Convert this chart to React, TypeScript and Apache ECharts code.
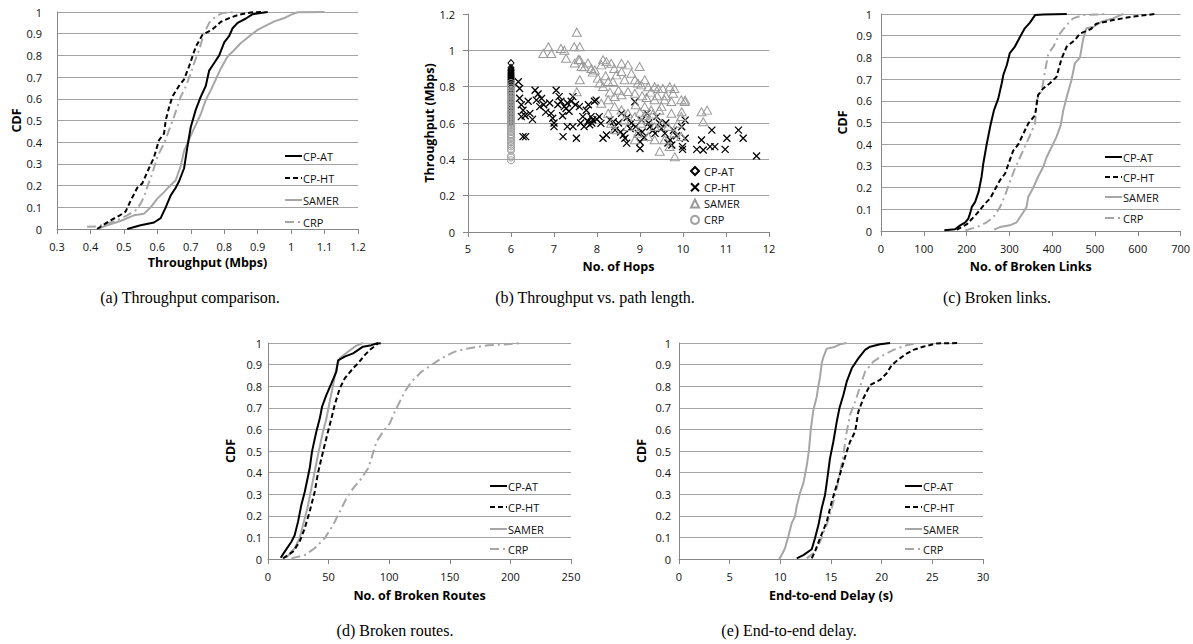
import React, { useEffect, useRef } from "react";
import * as echarts from "echarts";

// ---------- (a) Throughput CDF ----------
const aCPAT = [[0.51,0],[0.55,0.017],[0.59,0.03],[0.61,0.05],[0.625,0.1],[0.64,0.155],[0.655,0.19],[0.665,0.22],[0.68,0.28],[0.69,0.38],[0.70,0.47],[0.715,0.55],[0.73,0.61],[0.745,0.66],[0.755,0.73],[0.77,0.765],[0.785,0.80],[0.80,0.86],[0.815,0.89],[0.825,0.925],[0.84,0.95],[0.865,0.97],[0.885,0.99],[0.93,1]];
const aCPHT = [[0.42,0],[0.46,0.04],[0.485,0.06],[0.505,0.08],[0.52,0.13],[0.54,0.19],[0.555,0.21],[0.575,0.28],[0.59,0.33],[0.605,0.41],[0.62,0.44],[0.625,0.5],[0.635,0.56],[0.645,0.61],[0.665,0.66],[0.68,0.69],[0.695,0.75],[0.715,0.84],[0.735,0.895],[0.765,0.92],[0.79,0.955],[0.82,0.975],[0.845,0.988],[0.88,0.998],[0.92,1]];
const aSAMER = [[0.42,0],[0.45,0.017],[0.49,0.037],[0.53,0.063],[0.56,0.07],[0.58,0.10],[0.60,0.14],[0.62,0.17],[0.635,0.195],[0.655,0.225],[0.67,0.29],[0.68,0.36],[0.69,0.395],[0.70,0.43],[0.715,0.48],[0.73,0.53],[0.745,0.595],[0.76,0.64],[0.775,0.69],[0.79,0.74],[0.81,0.795],[0.83,0.825],[0.85,0.857],[0.875,0.888],[0.90,0.918],[0.92,0.934],[0.95,0.957],[0.98,0.972],[1.0,0.988],[1.02,0.999],[1.1,1]];
const aCRP = [[0.39,0.01],[0.42,0.012],[0.45,0.025],[0.48,0.04],[0.51,0.063],[0.535,0.086],[0.55,0.117],[0.56,0.148],[0.57,0.194],[0.585,0.256],[0.60,0.333],[0.62,0.394],[0.635,0.456],[0.65,0.518],[0.66,0.564],[0.67,0.61],[0.685,0.656],[0.70,0.718],[0.71,0.764],[0.725,0.826],[0.74,0.903],[0.755,0.95],[0.775,0.98],[0.795,0.995],[0.83,1]];

// ---------- (b) Throughput vs hops ----------
const bCPAT = [[6,0.93],[6,0.904],[6,0.896],[6,0.889],[6,0.885],[6,0.877],[6,0.873],[6,0.867],[6,0.862],[6,0.858],[6,0.852],[6,0.849],[6,0.842],[6,0.839],[6,0.833],[6,0.828],[6,0.825],[6,0.817],[6,0.811],[6,0.806],[6,0.798],[6,0.793],[6,0.784],[6,0.778],[6,0.767],[6,0.76],[6,0.747],[6,0.737],[6,0.721],[6,0.71],[6,0.694],[6,0.682],[6,0.666],[6,0.653],[6,0.637],[6,0.625],[6,0.61],[6,0.602]];
const bCPHT = [[6.17,0.827],[6.2,0.79],[6.2,0.736],[6.24,0.70],[6.28,0.67],[6.24,0.635],[6.33,0.64],[6.44,0.653],[6.28,0.525],[6.34,0.525],[6.56,0.78],[6.63,0.76],[6.59,0.726],[6.71,0.735],[6.67,0.69],[6.76,0.70],[6.81,0.66],[6.93,0.653],[6.97,0.626],[7.0,0.58],[7.0,0.6],[7.05,0.78],[7.12,0.745],[7.16,0.72],[7.24,0.69],[7.09,0.70],[7.31,0.71],[7.35,0.665],[7.44,0.745],[7.31,0.58],[7.44,0.58],[7.21,0.525],[7.52,0.516],[7.28,0.68],[7.59,0.69],[7.67,0.635],[7.75,0.67],[7.79,0.61],[7.86,0.635],[7.9,0.617],[7.94,0.72],[7.98,0.726],[8.05,0.635],[8.09,0.598],[8.22,0.534],[8.14,0.516],[8.3,0.617],[8.41,0.58],[8.38,0.607],[8.42,0.561],[8.61,0.534],[8.65,0.516],[8.57,0.653],[8.88,0.717],[8.96,0.543],[9.0,0.497],[9.0,0.46],[9.04,0.616],[9.23,0.579],[9.39,0.635],[9.35,0.543],[9.58,0.543],[9.7,0.506],[9.74,0.479],[9.78,0.56],[9.97,0.579],[9.16,0.653],[8.77,0.57],[8.69,0.489],[10.05,0.616],[10.05,0.516],[9.99,0.47],[9.99,0.455],[10.32,0.455],[10.43,0.506],[10.47,0.451],[10.63,0.47],[10.74,0.47],[10.67,0.561],[10.98,0.455],[11.02,0.516],[11.29,0.561],[11.4,0.516],[11.71,0.418],[7.62,0.6],[7.7,0.58],[7.83,0.59],[7.88,0.6],[8.0,0.62],[8.5,0.6],[8.55,0.55],[8.7,0.63],[8.8,0.6],[8.9,0.58],[9.05,0.55],[9.1,0.52],[9.2,0.6],[9.3,0.56],[9.45,0.6],[9.5,0.57],[9.6,0.6],[9.65,0.49],[9.85,0.53],[6.5,0.62],[6.9,0.71],[7.2,0.64],[7.4,0.72],[7.5,0.7],[6.4,0.72],[7.8,0.7]];
const bSAMER = [[7.53,1.1],[6.87,1.02],[6.75,0.983],[6.94,0.983],[7.16,1.01],[7.24,1.0],[7.28,0.956],[7.47,1.02],[7.6,1.02],[7.57,0.95],[7.48,0.93],[7.6,0.948],[7.64,0.911],[7.71,0.91],[7.79,0.93],[7.87,0.90],[7.95,0.892],[8.14,0.948],[8.22,0.938],[8.33,0.929],[8.57,0.929],[8.72,0.92],[8.99,0.911],[7.6,0.838],[7.53,0.772],[8.02,0.847],[8.06,0.82],[8.14,0.801],[8.26,0.828],[8.37,0.828],[8.45,0.865],[8.57,0.883],[8.64,0.838],[8.8,0.874],[8.88,0.838],[8.95,0.82],[9.03,0.81],[9.11,0.838],[9.19,0.8],[9.34,0.8],[9.42,0.79],[9.53,0.79],[9.69,0.8],[9.8,0.79],[9.77,0.764],[9.96,0.728],[10.04,0.718],[10.43,0.662],[10.56,0.671],[10.47,0.607],[9.73,0.718],[9.57,0.728],[9.5,0.69],[9.34,0.728],[9.26,0.672],[9.11,0.69],[8.88,0.764],[8.72,0.773],[8.57,0.755],[8.41,0.746],[8.26,0.728],[8.1,0.709],[8.41,0.69],[8.57,0.672],[8.72,0.654],[8.88,0.636],[8.64,0.617],[8.33,0.599],[8.41,0.563],[8.72,0.581],[9.03,0.599],[9.19,0.617],[9.34,0.581],[9.5,0.599],[9.65,0.581],[9.8,0.544],[9.69,0.471],[9.46,0.444],[9.81,0.414],[9.96,0.636],[9.88,0.599],[9.73,0.654],[8.95,0.544],[9.19,0.526],[9.34,0.508],[9.57,0.508],[8.88,0.508],[8.26,0.654],[9.96,0.526],[10.05,0.726],[9.97,0.662],[8.5,0.78],[8.3,0.77],[8.9,0.7],[9.05,0.75],[9.15,0.74],[9.25,0.77],[9.4,0.75],[9.6,0.75],[9.0,0.66],[9.1,0.64],[9.3,0.65],[9.45,0.67],[8.2,0.86],[8.4,0.9],[8.1,0.92],[7.9,0.88]];
const bCRP = [[6,0.82],[6,0.807],[6,0.795],[6,0.784],[6,0.777],[6,0.767],[6,0.76],[6,0.75],[6,0.744],[6,0.734],[6,0.728],[6,0.718],[6,0.712],[6,0.702],[6,0.696],[6,0.686],[6,0.68],[6,0.67],[6,0.664],[6,0.654],[6,0.648],[6,0.638],[6,0.632],[6,0.622],[6,0.616],[6,0.606],[6,0.6],[6,0.59],[6,0.584],[6,0.574],[6,0.568],[6,0.557],[6,0.55],[6,0.539],[6,0.532],[6,0.521],[6,0.513],[6,0.501],[6,0.493],[6,0.48],[6,0.471],[6,0.458],[6,0.449],[6,0.42],[6,0.41],[6,0.395]];

// ---------- (c) Broken links CDF ----------
const cCPAT = [[148,0.003],[173,0.008],[185,0.026],[197,0.04],[204,0.057],[208,0.08],[212,0.11],[220,0.134],[228,0.18],[235,0.25],[239,0.31],[247,0.40],[255,0.48],[264,0.557],[274,0.61],[282,0.68],[286,0.72],[294,0.765],[301,0.82],[313,0.85],[325,0.895],[336,0.934],[348,0.96],[360,0.995],[379,0.998],[434,1]];
const cCPHT = [[177,0.006],[200,0.03],[224,0.08],[243,0.126],[255,0.15],[266,0.19],[278,0.234],[290,0.265],[298,0.31],[309,0.37],[321,0.40],[333,0.45],[344,0.495],[360,0.534],[367,0.626],[379,0.657],[394,0.68],[410,0.71],[422,0.795],[434,0.85],[453,0.88],[465,0.91],[490,0.93],[503,0.955],[542,0.972],[588,0.988],[640,1]];
const cSAMER = [[264,0.006],[278,0.018],[301,0.026],[317,0.04],[333,0.088],[340,0.11],[344,0.157],[356,0.2],[367,0.25],[379,0.295],[387,0.34],[399,0.388],[410,0.434],[420,0.488],[426,0.557],[434,0.618],[445,0.695],[453,0.772],[465,0.80],[472,0.88],[480,0.934],[496,0.94],[515,0.965],[542,0.98],[566,1]];
const cCRP = [[197,0.003],[224,0.018],[247,0.04],[263,0.065],[278,0.11],[290,0.165],[301,0.226],[313,0.288],[325,0.34],[336,0.388],[348,0.44],[360,0.495],[364,0.603],[376,0.65],[383,0.734],[391,0.818],[403,0.85],[418,0.91],[434,0.95],[449,0.98],[472,0.995],[527,1]];

// ---------- (d) Broken routes CDF ----------
const dCPAT = [[10.5,0.006],[13.8,0.034],[19.3,0.08],[22,0.11],[24.8,0.173],[27.5,0.25],[30.3,0.31],[34.4,0.42],[36.3,0.497],[39.9,0.59],[42.7,0.65],[44.6,0.705],[48.2,0.76],[52.3,0.813],[56.4,0.867],[57.8,0.92],[63.3,0.937],[70.2,0.952],[78.4,0.983],[85.3,0.99],[90.8,1]];
const dCPHT = [[12.4,0.003],[20.6,0.034],[26.1,0.08],[30.3,0.142],[34.4,0.22],[38.5,0.31],[41.3,0.40],[45.4,0.497],[49.5,0.59],[52.3,0.65],[55,0.713],[59.2,0.79],[63.3,0.836],[70.2,0.883],[74.3,0.906],[79.8,0.944],[84,0.968],[90.8,0.998],[95,1]];
const dSAMER = [[15.1,0.006],[22,0.05],[26.1,0.096],[28.9,0.157],[32.5,0.235],[35.8,0.327],[38.5,0.404],[41.8,0.497],[45.4,0.59],[48.2,0.65],[50.9,0.728],[53.7,0.805],[56.4,0.883],[59.2,0.929],[66.1,0.96],[72.9,0.988],[78.4,1]];
const dCRP = [[19.3,0.003],[30.3,0.018],[38.5,0.05],[46.8,0.096],[53.7,0.157],[59.2,0.219],[64.7,0.28],[70.2,0.327],[77.1,0.373],[82.6,0.42],[85.3,0.466],[89.5,0.543],[95,0.59],[100.5,0.628],[104.6,0.682],[108.7,0.728],[112.9,0.775],[118.4,0.821],[126.6,0.867],[134.9,0.898],[143.1,0.929],[154.1,0.96],[165.2,0.975],[181.7,0.99],[195,0.993],[210,1]];

// ---------- (e) End-to-end delay CDF ----------
const eCPAT = [[11.62,0.003],[12.27,0.018],[13.1,0.045],[13.42,0.096],[13.76,0.157],[14.08,0.235],[14.41,0.296],[14.64,0.373],[14.9,0.466],[15.23,0.543],[15.57,0.636],[15.83,0.698],[16.22,0.759],[16.55,0.821],[17.05,0.883],[17.7,0.929],[18.36,0.968],[18.86,0.983],[19.84,0.994],[20.83,1]];
const eCPHT = [[13.1,0.003],[13.42,0.034],[13.92,0.096],[14.58,0.173],[15.07,0.265],[15.57,0.343],[16.06,0.42],[16.55,0.497],[16.88,0.543],[17.38,0.59],[17.7,0.682],[18.2,0.744],[18.86,0.806],[19.84,0.829],[20.5,0.86],[21,0.898],[21.8,0.929],[22.5,0.952],[23.13,0.968],[24.1,0.983],[25.44,0.998],[27.74,1]];
const eSAMER = [[9.9,0],[10.23,0.028],[10.46,0.05],[10.79,0.105],[11.12,0.166],[11.45,0.197],[11.61,0.243],[11.94,0.305],[12.27,0.35],[12.6,0.43],[12.83,0.505],[13,0.597],[13.26,0.69],[13.59,0.75],[13.75,0.8],[13.92,0.843],[14.08,0.905],[14.25,0.935],[14.58,0.974],[15.23,0.98],[15.89,0.994],[16.55,1]];
const eCRP = [[12.6,0.003],[13.26,0.026],[13.92,0.08],[14.58,0.157],[15.07,0.235],[15.57,0.327],[15.9,0.404],[16.22,0.48],[16.49,0.574],[16.88,0.667],[17.38,0.728],[17.87,0.798],[18.36,0.867],[19.18,0.914],[20.17,0.944],[21.16,0.968],[22.47,0.99],[23.5,1]];

const names = ["CP-AT", "CP-HT", "SAMER", "CRP"];
const captions = ["(a) Throughput comparison.", "(b) Throughput vs. path length.", "(c) Broken links.", "(d) Broken routes.", "(e) End-to-end delay."];

const GRAY = "#a6a6a6";
const GRIDC = "#a3a3a3";
const AXISC = "#878787";
const FONT = "Open Sans";

const lineStyles: any[] = [
  { color: "#000", width: 2, type: "solid" },
  { color: "#000", width: 2, type: [5, 3] },
  { color: GRAY, width: 2, type: "solid" },
  { color: GRAY, width: 2, type: [9, 4, 2, 4] },
];

function xAxis(gi: number, min: number, max: number, interval: number, name: string, nameGap: number, margin: number) {
  return {
    type: "value", gridIndex: gi, min, max, interval, name, nameLocation: "middle", nameGap,
    nameTextStyle: { fontFamily: FONT, fontWeight: "bold", fontSize: 12.5, color: "#000" },
    axisLine: { show: true, onZero: false, lineStyle: { color: AXISC, width: 1 } },
    axisTick: { show: true, length: 5, lineStyle: { color: AXISC } },
    axisLabel: { margin, fontFamily: FONT, fontSize: 11, color: "#111", showMinLabel: true, showMaxLabel: true },
    splitLine: { show: false },
  };
}

function yAxis(gi: number, max: number, interval: number, name: string, nameGap: number, margin: number, ticks: boolean, splitColors?: string[]) {
  return {
    type: "value", gridIndex: gi, min: 0, max, interval, name, nameLocation: "middle", nameGap, nameRotate: 90,
    nameTextStyle: { fontFamily: FONT, fontWeight: "bold", fontSize: 12.5, color: "#000" },
    axisLine: { show: true, lineStyle: { color: AXISC, width: 1 } },
    axisTick: { show: ticks, length: 5, lineStyle: { color: AXISC } },
    axisLabel: { margin, fontFamily: FONT, fontSize: 11, color: "#111", showMinLabel: true, showMaxLabel: true },
    splitLine: { show: true, lineStyle: { color: splitColors || GRIDC, width: 1 } },
  };
}

function cdfSeries(prefix: string, gi: number, datas: number[][][]) {
  return datas.map((d, i) => ({
    type: "line", name: prefix + ":" + names[i], data: d, xAxisIndex: gi, yAxisIndex: gi,
    symbol: "none", lineStyle: lineStyles[i], itemStyle: { color: lineStyles[i].color }, z: 4 - i,
  }));
}

const XSYM = "path://M0,0L10,10M10,0L0,10";
const scatterDefs: any[] = [
  { symbol: "diamond", size: [6, 7], color: "#000", bw: 1 },
  { symbol: XSYM, size: 7, color: "#000", bw: 1.3 },
  { symbol: "triangle", size: [9, 8], color: "#9a9a9a", bw: 1 },
  { symbol: "circle", size: 7, color: "#a0a0a0", bw: 1 },
];

// line-legend graphic: [lineStartX, rowYs]
function lineLegend(x0: number, rows: number[]) {
  const els: any[] = [];
  rows.forEach((y, i) => {
    const ls = lineStyles[i];
    els.push({
      type: "line", shape: { x1: x0, y1: y, x2: x0 + 17, y2: y },
      style: { stroke: ls.color, lineWidth: 2, lineDash: Array.isArray(ls.type) ? ls.type : null },
      silent: true,
    });
    els.push({
      type: "text", x: x0 + 18, y,
      style: { text: names[i], font: '11px "Open Sans"', fill: "#111", verticalAlign: "middle", textVerticalAlign: "middle" },
      silent: true,
    });
  });
  return els;
}

export default function App() {
  const ref = useRef<HTMLDivElement>(null);
  useEffect(() => {
    if (!ref.current) return;
    const chart = echarts.init(ref.current, undefined, { renderer: "svg" });
    const bData = [bCPAT, bCPHT, bSAMER, bCRP];
    const scatter = bData.map((d, i) => ({
      type: "scatter", name: "b:" + names[i], data: d, xAxisIndex: 1, yAxisIndex: 1,
      symbol: scatterDefs[i].symbol, symbolSize: scatterDefs[i].size,
      itemStyle: { color: "rgba(0,0,0,0)", borderColor: scatterDefs[i].color, borderWidth: scatterDefs[i].bw, opacity: 1 },
      z: 2 + i,
    }));
    const option: any = {
      animation: false,
      backgroundColor: "#fff",
      grid: [
        { left: 57, top: 12, width: 301, height: 217 },
        { left: 468, top: 14, width: 301, height: 218 },
        { left: 881, top: 14, width: 300, height: 217 },
        { left: 268, top: 343, width: 303, height: 216 },
        { left: 679, top: 343, width: 304, height: 216 },
      ],
      xAxis: [
        xAxis(0, 0.3, 1.2, 0.1, "Throughput (Mbps)", 27, 12),
        xAxis(1, 5, 12, 1, "No. of Hops", 28, 11),
        xAxis(2, 0, 700, 100, "No. of Broken Links", 29, 12),
        xAxis(3, 0, 250, 50, "No. of Broken Routes", 30, 12),
        xAxis(4, 0, 30, 5, "End-to-end Delay (s)", 30, 12),
      ],
      yAxis: [
        yAxis(0, 1, 0.1, "CDF", 34, 15, false),
        yAxis(1, 1.2, 0.2, "Throughput (Mbps)", 31, 13, true, [GRIDC, GRIDC, GRIDC, GRIDC, GRIDC, GRIDC, "rgba(0,0,0,0)"]),
        yAxis(2, 1, 0.1, "CDF", 32, 9, false),
        yAxis(3, 1, 0.1, "CDF", 31, 6, false),
        yAxis(4, 1, 0.1, "CDF", 31, 8, false),
      ],
      legend: [
        {
          data: names.map((n) => "b:" + n), orient: "vertical", left: 685, top: 160, itemWidth: 8, itemHeight: 8, itemGap: 4.3,
          selectedMode: false, formatter: (n: string) => n.split(":")[1],
          textStyle: { fontFamily: FONT, fontSize: 11, color: "#111", lineHeight: 12 },
        },
      ],
      series: [
        ...cdfSeries("a", 0, [aCPAT, aCPHT, aSAMER, aCRP]),
        ...scatter,
        ...cdfSeries("c", 2, [cCPAT, cCPHT, cSAMER, cCRP]),
        ...cdfSeries("d", 3, [dCPAT, dCPHT, dSAMER, dCRP]),
        ...cdfSeries("e", 4, [eCPAT, eCPHT, eSAMER, eCRP]),
      ],
      graphic: [
        ...lineLegend(285, [156, 178, 200, 222]),
        ...lineLegend(1105, [157, 177, 197, 218]),
        ...lineLegend(490, [486, 507, 529, 549]),
        ...lineLegend(905, [486, 507, 529, 549]),
        ...[[190, 297], [595, 297], [997, 297], [395, 630], [789, 630]].map((p, i) => ({
          type: "text", x: p[0], y: p[1], silent: true,
          style: { text: captions[i], font: '16px "Liberation Serif"', fill: "#000", align: "center", verticalAlign: "middle", textAlign: "center", textVerticalAlign: "middle" },
        })),
      ],
    };
    chart.setOption(option);
    return () => chart.dispose();
  }, []);
  return <div ref={ref} style={{ position: "fixed", left: 0, top: 0, width: 1193, height: 644 }} />;
}
